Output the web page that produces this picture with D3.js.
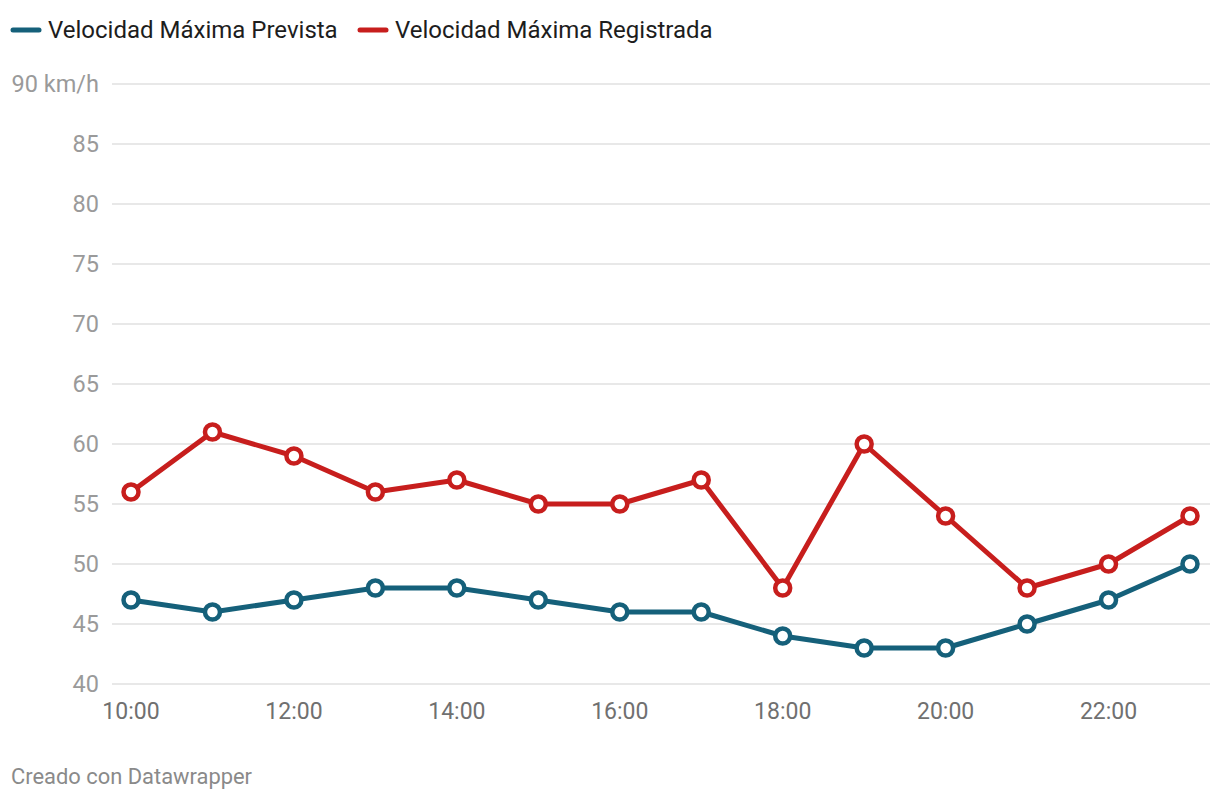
<!DOCTYPE html>
<html><head><meta charset="utf-8">
<script src="https://cdn.jsdelivr.net/npm/d3@7"></script>
<style>
body{margin:0;background:#fff;font-family:Roboto,sans-serif;}
</style></head>
<body><svg id="c" width="1220" height="800"></svg>
<script>
const hours = ["10:00","11:00","12:00","13:00","14:00","15:00","16:00","17:00","18:00","19:00","20:00","21:00","22:00","23:00"];
const prevista = [47,46,47,48,48,47,46,46,44,43,43,45,47,50];
const registrada = [56,61,59,56,57,55,55,57,48,60,54,48,50,54];
const yTicks = [40,45,50,55,60,65,70,75,80,85,90];
const xTickLabels = ["10:00","12:00","14:00","16:00","18:00","20:00","22:00"];
const seriesNames = ["Velocidad Máxima Prevista","Velocidad Máxima Registrada"];
const colors = ["#15607a","#c71e1d"];

const svg = d3.select("#c");
const x = d3.scalePoint().domain(hours).range([131,1190]);
const y = d3.scaleLinear().domain([40,90]).range([684,84]);

// grid
const gy = svg.append("g");
gy.selectAll("line").data(yTicks).join("line")
  .attr("x1",112).attr("x2",1210)
  .attr("y1",d=>y(d)).attr("y2",d=>y(d))
  .attr("stroke","#e1e1e1").attr("stroke-width",1.5);
gy.selectAll("text").data(yTicks).join("text")
  .attr("x",99).attr("y",d=>y(d)).attr("dy","0.35em")
  .attr("text-anchor","end").attr("fill","#9a9a9a")
  .attr("font-size",23.5)
  .text(d=>d===90?"90 km/h":d);

// x labels
svg.append("g").selectAll("text").data(xTickLabels).join("text")
  .attr("x",d=>x(d)).attr("y",711).attr("dy","0.35em")
  .attr("text-anchor","middle").attr("fill","#707070").attr("font-size",23)
  .text(d=>d);

const line = d3.line().x((d,i)=>x(hours[i])).y(d=>y(d));
[prevista,registrada].forEach((vals,si)=>{
  svg.append("path").datum(vals).attr("d",line)
    .attr("fill","none").attr("stroke",colors[si]).attr("stroke-width",5)
    .attr("stroke-linejoin","round");
  svg.append("g").selectAll("circle").data(vals).join("circle")
    .attr("cx",(d,i)=>x(hours[i])).attr("cy",d=>y(d)).attr("r",7.5)
    .attr("fill","#fff").attr("stroke",colors[si]).attr("stroke-width",4.5);
});

// legend
const legX = [11,358];
seriesNames.forEach((n,i)=>{
  svg.append("line").attr("x1",legX[i]+2).attr("x2",legX[i]+28).attr("y1",30).attr("y2",30)
    .attr("stroke",colors[i]).attr("stroke-width",5).attr("stroke-linecap","round");
  svg.append("text").attr("x",legX[i]+37).attr("y",30).attr("dy","0.35em")
    .attr("fill","#1d1d1d").attr("font-size",24).text(n);
});

svg.append("text").attr("x",11).attr("y",776).attr("dy","0.35em")
  .attr("fill","#8a8a8a").attr("font-size",21.9).text("Creado con Datawrapper");
</script></body></html>
